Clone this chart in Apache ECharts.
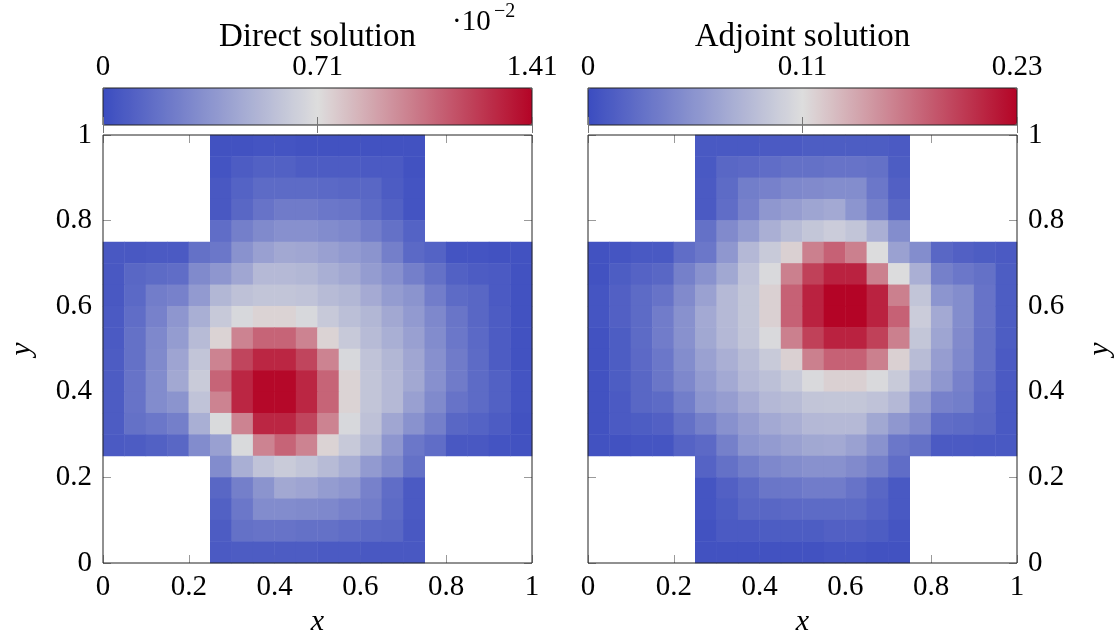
<!DOCTYPE html>
<html><head><meta charset="utf-8">
<script src="https://cdn.jsdelivr.net/npm/echarts@6/dist/echarts.min.js"></script>
<style>html,body{margin:0;padding:0;background:#fff}#c{width:1115px;height:637px}</style>
</head><body><div id="c"></div>
<script>
const _ = null;
// cell centres of the 20 x 20 mesh sampling (x and y)
const cellCenters = [0.025,0.075,0.125,0.175,0.225,0.275,0.325,0.375,0.425,0.475,0.525,0.575,0.625,0.675,0.725,0.775,0.825,0.875,0.925,0.975];
const axisTicks = [0, 0.2, 0.4, 0.6, 0.8, 1];
// Direct solution, units of 1e-2, rows from y=0.975 (top) down to y=0.025
const directMax = 1.412;
const directBarLabels = ['0', '0.71', '1.41'];
const directRows = [
[_,_,_,_,_, .03,.03,.04,.04,.03,.03,.03,.03,.03,.03, _,_,_,_,_],
[_,_,_,_,_, .04,.08,.10,.10,.08,.08,.08,.07,.07,.03, _,_,_,_,_],
[_,_,_,_,_, .06,.11,.15,.15,.15,.14,.13,.13,.08,.04, _,_,_,_,_],
[_,_,_,_,_, .06,.13,.19,.23,.23,.21,.20,.15,.10,.04, _,_,_,_,_],
[_,_,_,_,_, .16,.25,.30,.33,.33,.31,.29,.24,.18,.11, _,_,_,_,_],
[.06,.06,.07,.07,.18, .21,.34,.41,.45,.44,.41,.38,.35,.25,.14, .11,.04,.04,.03,.03],
[.06,.13,.15,.16,.30, .36,.44,.53,.53,.52,.48,.45,.39,.33,.25, .18,.10,.08,.07,.03],
[.06,.14,.24,.26,.38, .52,.57,.59,.59,.58,.54,.52,.46,.39,.35, .24,.15,.13,.07,.03],
[.07,.16,.26,.36,.48, .61,.68,.74,.74,.68,.61,.56,.52,.45,.38, .29,.20,.13,.08,.03],
[.07,.18,.29,.39,.54, .74,1.0,1.1,1.1,1.0,.74,.61,.54,.48,.41, .31,.21,.14,.08,.03],
[.08,.18,.30,.43,.59, 1.0,1.2,1.3,1.3,1.2,1.0,.68,.58,.52,.44, .33,.23,.15,.08,.03],
[.08,.19,.31,.45,.62, 1.1,1.3,1.4,1.4,1.3,1.1,.74,.59,.53,.45, .33,.23,.15,.10,.04],
[.08,.19,.31,.35,.58, 1.0,1.3,1.4,1.4,1.3,1.1,.74,.59,.53,.41, .30,.19,.15,.10,.04],
[.08,.18,.21,.25,.48, .69,1.0,1.3,1.3,1.2,1.0,.68,.57,.44,.34, .25,.13,.11,.08,.03],
[.07,.08,.10,.13,.31, .41,.69,1.0,1.1,1.0,.74,.61,.52,.36,.21, .16,.06,.06,.04,.03],
[_,_,_,_,_, .31,.48,.58,.62,.59,.54,.48,.38,.30,.18, _,_,_,_,_],
[_,_,_,_,_, .13,.25,.35,.45,.43,.39,.36,.26,.16,.07, _,_,_,_,_],
[_,_,_,_,_, .10,.21,.31,.31,.30,.29,.26,.24,.15,.07, _,_,_,_,_],
[_,_,_,_,_, .08,.18,.19,.19,.18,.18,.16,.14,.13,.06, _,_,_,_,_],
[_,_,_,_,_, .07,.08,.08,.08,.08,.07,.07,.06,.06,.06, _,_,_,_,_]
];
// Adjoint solution, rows from y=0.975 (top) down to y=0.025
const adjointMax = 0.228;
const adjointBarLabels = ['0', '0.11', '0.23'];
const adjointRows = [
[_,_,_,_,_, .010,.010,.010,.011,.011,.013,.013,.013,.013,.011, _,_,_,_,_],
[_,_,_,_,_, .010,.021,.023,.026,.029,.029,.031,.031,.029,.013, _,_,_,_,_],
[_,_,_,_,_, .011,.024,.039,.042,.047,.049,.051,.051,.034,.016, _,_,_,_,_],
[_,_,_,_,_, .011,.026,.042,.059,.064,.070,.073,.057,.041,.021, _,_,_,_,_],
[_,_,_,_,_, .029,.049,.062,.078,.088,.096,.101,.095,.078,.051, _,_,_,_,_],
[.005,.007,.010,.010,.026, .034,.059,.085,.099,.121,.163,.179,.163,.113,.067, .051,.021,.016,.013,.011],
[.005,.013,.018,.021,.041, .055,.072,.093,.111,.163,.196,.212,.212,.163,.113, .078,.041,.034,.029,.013],
[.007,.016,.024,.031,.049, .067,.086,.096,.121,.179,.212,.228,.228,.212,.163, .095,.057,.051,.031,.013],
[.007,.016,.024,.038,.054, .073,.086,.096,.121,.179,.212,.228,.228,.212,.179, .101,.073,.051,.031,.013],
[.005,.013,.024,.038,.054, .072,.085,.095,.111,.163,.196,.212,.212,.196,.163, .096,.070,.049,.029,.013],
[.005,.013,.023,.034,.051, .067,.078,.088,.099,.121,.163,.179,.179,.163,.121, .088,.064,.047,.029,.011],
[.005,.013,.021,.033,.047, .062,.073,.085,.091,.099,.111,.121,.121,.111,.099, .078,.059,.042,.026,.011],
[.005,.011,.021,.024,.039, .057,.064,.075,.085,.088,.095,.096,.096,.093,.085, .062,.042,.039,.023,.010],
[.005,.011,.013,.016,.029, .041,.054,.064,.073,.078,.085,.086,.086,.072,.059, .049,.026,.024,.021,.010],
[.005,.005,.007,.007,.018, .023,.041,.057,.062,.067,.072,.073,.067,.055,.034, .029,.011,.011,.010,.010],
[_,_,_,_,_, .018,.029,.039,.047,.051,.054,.054,.049,.041,.026, _,_,_,_,_],
[_,_,_,_,_, .007,.016,.024,.033,.034,.038,.038,.031,.021,.010, _,_,_,_,_],
[_,_,_,_,_, .007,.013,.021,.021,.023,.024,.024,.024,.018,.010, _,_,_,_,_],
[_,_,_,_,_, .005,.011,.011,.013,.013,.013,.016,.016,.013,.007, _,_,_,_,_],
[_,_,_,_,_, .005,.005,.005,.005,.005,.005,.007,.007,.005,.005, _,_,_,_,_]
];

const FONT = '"Liberation Serif", "DejaVu Serif", serif';
const CMAP = ['#3b4cc0', '#dddddd', '#b40426'];
const FRAME = '#222';
const TICK = '#9a9a9a';

function toCells(rows) {
  const out = [];
  const n = rows.length;
  rows.forEach((row, r) => {
    const j = n - 1 - r;
    row.forEach((v, i) => { if (v !== null) out.push([i, j, v]); });
  });
  return out;
}

const cats = cellCenters.map(String);
function frameGrid(left, top, width, height) {
  return { left, top, width, height, show: true, borderColor: FRAME, borderWidth: 1,
           backgroundColor: 'transparent', z: 10, containLabel: false, outerBoundsMode: 'none' };
}
const grids = [
  frameGrid(103, 135, 429, 428),
  frameGrid(588, 135, 429, 428),
  frameGrid(103, 88, 429, 37),
  frameGrid(588, 88, 429, 37)
];

const tickStyle = { show: true, inside: true, length: 8, lineStyle: { color: TICK, width: 1 } };
const labelStyle = (margin) => ({ show: true, color: '#000', fontFamily: FONT, fontSize: 29, margin: margin });
const nameStyle = { color: '#000', fontFamily: FONT, fontSize: 30, fontStyle: 'italic' };

function valAxis(gridIndex, position, withLabels, extra) {
  return Object.assign({
    type: 'value', gridIndex, position, min: 0, max: 1, interval: 0.2,
    axisLine: { show: false }, splitLine: { show: false },
    axisTick: tickStyle,
    axisLabel: withLabels ? labelStyle(position === 'bottom' ? 10 : 11) : { show: false }
  }, extra || {});
}
function catAxis(gridIndex) {
  return { type: 'category', gridIndex, data: cats, show: false };
}
function barAxis(gridIndex, position, max, labels) {
  return {
    type: 'value', gridIndex, position, min: 0, max: max, interval: max / 2, z: 12,
    axisLine: { show: false }, splitLine: { show: false },
    axisTick: { show: true, inside: true, length: 8, lineStyle: { color: '#777', width: 1 } },
    axisLabel: labels ? Object.assign(labelStyle(6), { formatter: (v, idx) => labels[idx] }) : { show: false }
  };
}

const option = {
  animation: false,
  backgroundColor: '#fff',
  grid: grids,
  xAxis: [
    catAxis(0), catAxis(1),
    valAxis(0, 'bottom', true, { name: 'x', nameLocation: 'middle', nameGap: 44, nameTextStyle: nameStyle }),
    valAxis(0, 'top', false),
    valAxis(1, 'bottom', true, { name: 'x', nameLocation: 'middle', nameGap: 44, nameTextStyle: nameStyle }),
    valAxis(1, 'top', false),
    barAxis(2, 'top', directMax, directBarLabels),
    barAxis(2, 'bottom', directMax, null),
    barAxis(3, 'top', adjointMax, adjointBarLabels),
    barAxis(3, 'bottom', adjointMax, null)
  ],
  yAxis: [
    catAxis(0), catAxis(1),
    valAxis(0, 'left', true, { name: 'y', nameLocation: 'middle', nameGap: 66, nameRotate: 90, nameTextStyle: nameStyle }),
    valAxis(0, 'right', false),
    valAxis(1, 'left', false),
    valAxis(1, 'right', true, { name: 'y', nameLocation: 'middle', nameGap: 68, nameRotate: 90, nameTextStyle: nameStyle }),
    { type: 'value', gridIndex: 2, show: false, min: 0, max: 1 },
    { type: 'value', gridIndex: 3, show: false, min: 0, max: 1 }
  ],
  visualMap: [
    { type: 'continuous', seriesIndex: 0, min: 0, max: directMax, orient: 'horizontal',
      left: 103, top: 88, itemWidth: 37, itemHeight: 429, padding: 0, calculable: false,
      hoverLink: false, inRange: { color: CMAP }, z: 4 },
    { type: 'continuous', seriesIndex: 1, min: 0, max: adjointMax, orient: 'horizontal',
      left: 588, top: 88, itemWidth: 37, itemHeight: 429, padding: 0, calculable: false,
      hoverLink: false, inRange: { color: CMAP }, z: 4 }
  ],
  series: [
    { type: 'heatmap', name: 'Direct solution', xAxisIndex: 0, yAxisIndex: 0, data: toCells(directRows), emphasis: { disabled: true } },
    { type: 'heatmap', name: 'Adjoint solution', xAxisIndex: 1, yAxisIndex: 1, data: toCells(adjointRows), emphasis: { disabled: true } }
  ],
  graphic: [
    { type: 'text', x: 317.5, y: 37, style: { text: 'Direct solution', fill: '#000', font: '33px ' + FONT, align: 'center', verticalAlign: 'middle' } },
    { type: 'text', x: 802.5, y: 37, style: { text: 'Adjoint solution', fill: '#000', font: '33px ' + FONT, align: 'center', verticalAlign: 'middle' } },
    { type: 'text', x: 452, y: 22, style: { text: '·10', fill: '#000', font: '29px ' + FONT, align: 'left', verticalAlign: 'middle' } },
    { type: 'text', x: 494, y: 12, style: { text: '−2', fill: '#000', font: '20px ' + FONT, align: 'left', verticalAlign: 'middle' } }
  ]
};

const chart = echarts.init(document.getElementById('c'), null, { renderer: 'canvas' });
chart.setOption(option);
</script>
</body></html>
